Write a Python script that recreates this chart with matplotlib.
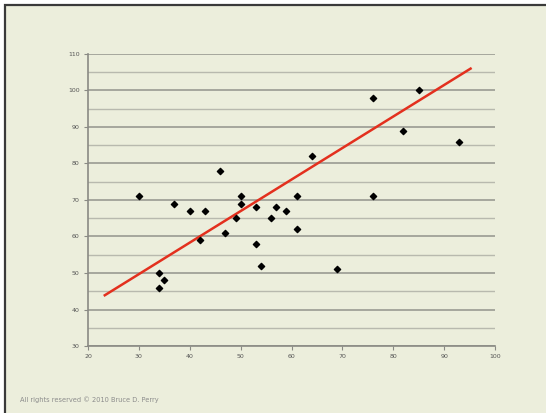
import matplotlib
matplotlib.use("Agg")
import matplotlib.pyplot as plt
from matplotlib.patches import Rectangle

# data
x_vals = [30, 34, 34, 35, 37, 40, 42, 43, 46, 47, 49, 50, 50, 53, 53, 54,
          56, 57, 59, 61, 61, 64, 69, 76, 76, 82, 85, 93]
y_vals = [71, 50, 46, 48, 69, 67, 59, 67, 78, 61, 65, 71, 69, 68, 58, 52,
          65, 68, 67, 71, 62, 82, 51, 98, 71, 89, 100, 86]
trend_x = [23.3, 95.2]
trend_y = [43.9, 106.0]
x_ticks = [20, 30, 40, 50, 60, 70, 80, 90, 100]
y_ticks = [30, 40, 50, 60, 70, 80, 90, 100, 110]

bg = "#eceedc"
W, H = 546, 413

fig = plt.figure(figsize=(W / 100, H / 100), dpi=100, facecolor="white")
# framed background panel
fig.add_artist(Rectangle((5 / W, -0.01), 1.02, 1 - 5 / H + 0.01,
                         transform=fig.transFigure, facecolor=bg,
                         edgecolor="#3a3a3a", linewidth=1.6, zorder=0))

ax = fig.add_axes([88 / W, 1 - 346 / H, (495 - 88) / W, (346 - 54) / H])
ax.set_facecolor("none")
ax.set_xlim(20, 100)
ax.set_ylim(30, 110)
ax.set_xticks(x_ticks)
ax.set_yticks(y_ticks)
ax.set_yticks(range(35, 110, 10), minor=True)

ax.grid(axis="y", which="major", color="#9a9a92", linewidth=1.2)
ax.grid(axis="y", which="minor", color="#b8b9ae", linewidth=1.0)
ax.set_axisbelow(True)

for s in ["top", "right"]:
    ax.spines[s].set_visible(False)
for s in ["left", "bottom"]:
    ax.spines[s].set_color("#8a8a84")
    ax.spines[s].set_linewidth(1.2)

ax.tick_params(which="major", length=3, width=0.8, color="#8a8a84",
               labelsize=4.5, labelcolor="#555555", pad=3)
ax.tick_params(which="minor", length=0)

ax.plot(trend_x, trend_y, color="#e3301e", linewidth=1.8, zorder=2)
ax.scatter(x_vals, y_vals, marker="D", s=10, color="black", zorder=3)

fig.text(20 / W, 1 - 400 / H, "All rights reserved \u00a9 2010 Bruce D. Perry",
         fontsize=4.8, color="#8c8c8c", va="center")

fig.savefig("out.png", dpi=100, facecolor="white")
